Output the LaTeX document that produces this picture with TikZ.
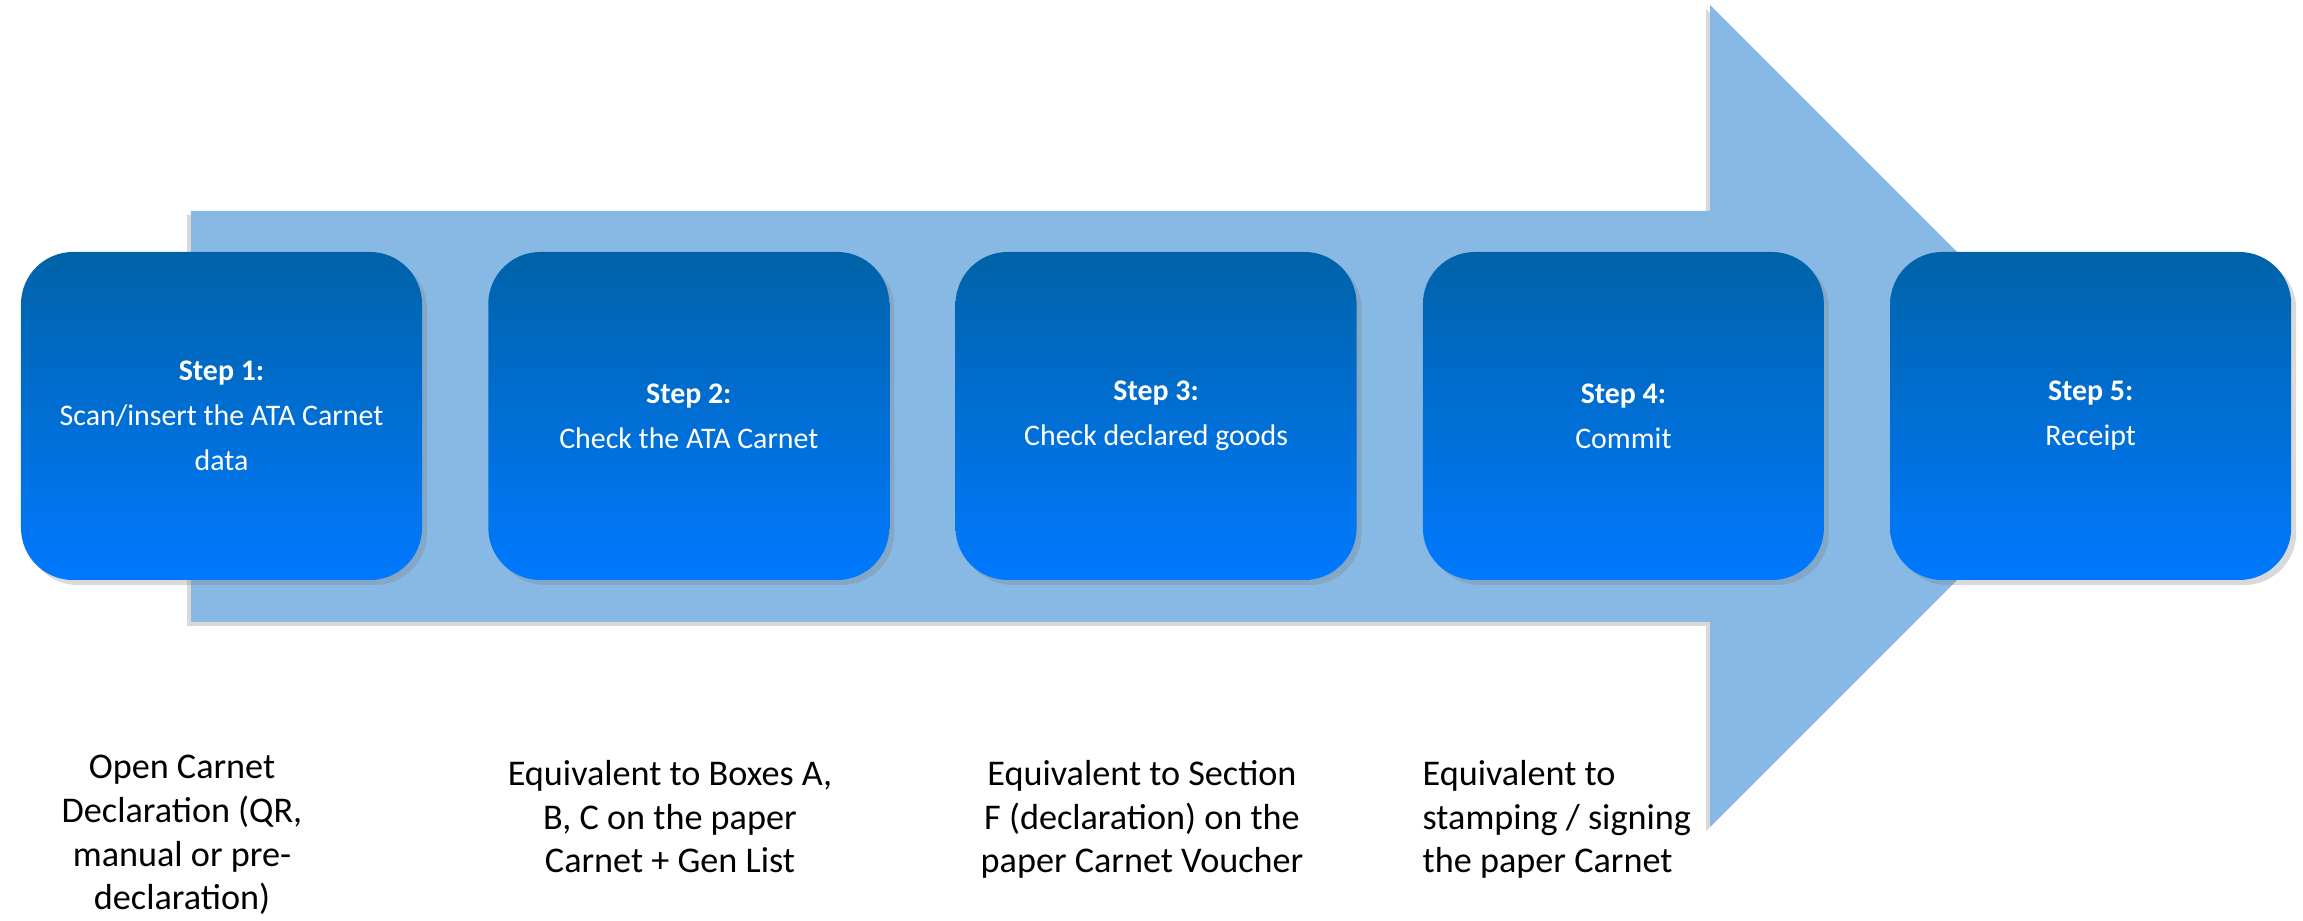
\documentclass[tikz,border=0pt]{standalone}
\usepackage{fontspec}
\setmainfont{Carlito}
\usetikzlibrary{shapes,arrows,positioning,calc,shadows}
\definecolor{arrowblue}{RGB}{135,185,228}
\definecolor{stepdark}{RGB}{0,99,168}
\definecolor{steplight}{RGB}{0,121,255}

\begin{document}
\begin{tikzpicture}[
		stepbox/.style={rectangle, rounded corners=5.2mm, minimum width=40.1mm, minimum height=32.8mm,
			top color=stepdark, bottom color=steplight, text=white, align=center,
			font=\fontsize{8.5}{12.8}\selectfont,
			drop shadow={shadow xshift=0.5mm, shadow yshift=-0.5mm, opacity=0.3}},
		notetext/.style={anchor=base, align=center, inner sep=0pt, font=\fontsize{10.3}{12.5}\selectfont}
	]
				\useasboundingbox (0,0) rectangle (23.03,9.21);
				
				% Draw big arrow behind the steps
				\fill[arrowblue, drop shadow={shadow xshift=-0.4mm, shadow yshift=-0.4mm, opacity=0.3}]
					(1.91,2.99) -- (17.10,2.99) -- (17.10,0.94) -- (21.21,5.05)
					-- (17.10,9.16) -- (17.10,7.10) -- (1.91,7.10) -- cycle;
				
				% Draw the steps
				\node[stepbox] (step1) at (2.215,5.05) {\bfseries Step 1:\\ Scan/insert the ATA Carnet\\ data};
				\node[stepbox] (step2) at (6.888,5.05) {\bfseries Step 2:\\ Check the ATA Carnet};
				\node[stepbox] (step3) at (11.561,5.05) {\bfseries Step 3:\\ Check declared goods};
				\node[stepbox] (step4) at (16.234,5.05) {\bfseries Step 4:\\ Commit};
				\node[stepbox] (step5) at (20.907,5.05) {\bfseries Step 5:\\ Receipt};
				
				% Draw notes under the steps (anchored on the last line)
				\node[notetext] (note1) at (1.82,0.11) {Open Carnet\\ Declaration (QR,\\ manual or pre-\\ declaration)};
				\node[notetext] (note2) at (6.70,0.48) {Equivalent to Boxes A,\\ B, C on the paper\\ Carnet + Gen List};
				\node[notetext] (note3) at (11.42,0.48) {Equivalent to Section\\ F (declaration) on the\\ paper Carnet Voucher};
				\node[notetext, anchor=base west, align=left] (note4) at (14.22,0.48) {Equivalent to\\ stamping / signing\\ the paper Carnet};
			\end{tikzpicture}
\end{document}
